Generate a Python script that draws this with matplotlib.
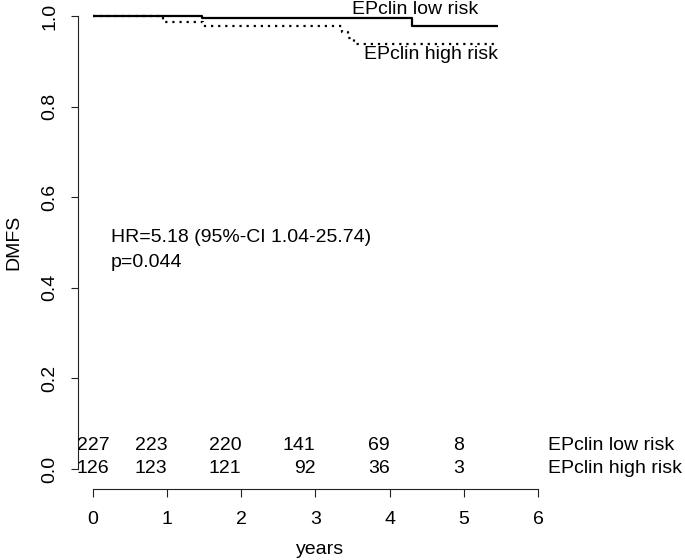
import matplotlib
matplotlib.use("Agg")
import matplotlib.pyplot as plt

plt.rcParams['font.family'] = ['Liberation Sans', 'DejaVu Sans']

# Kaplan-Meier step data
low_t = [0.0, 1.47, 4.30, 5.46]
low_s = [1.0, 0.9956, 0.977, 0.977]
high_t = [0.0, 0.95, 1.48, 3.36, 3.44, 3.52, 5.46]
high_s = [1.0, 0.986, 0.977, 0.965, 0.952, 0.938, 0.938]

# numbers at risk
risk_times = [0, 1, 2, 3, 4, 5]
risk_low = [227, 223, 220, 141, 69, 8]
risk_high = [126, 123, 121, 92, 36, 3]
group_labels = ["EPclin low risk", "EPclin high risk"]

x_ticks = [0, 1, 2, 3, 4, 5, 6]
y_ticks = [0.0, 0.2, 0.4, 0.6, 0.8, 1.0]
y_ticklabels = ["0.0", "0.2", "0.4", "0.6", "0.8", "1.0"]

hr_lines = ["HR=5.18 (95%-CI 1.04-25.74)", "p=0.044"]

FS = 14.0

fig = plt.figure(figsize=(6.85, 5.6), dpi=100)
ax = fig.add_axes([78/685, 71/560, (538-78)/685, 489/560])
ax.set_xlim(-0.202, 6.0)
ax.set_ylim(-0.0442, 1.0353)

ax.step(low_t, low_s, where='post', color='black', lw=1.6, solid_capstyle='butt')
ax.step(high_t, high_s, where='post', color='black', lw=1.6, linestyle=(0, (1.0, 2.2)))

for s in ['top', 'right']:
    ax.spines[s].set_visible(False)
ax.spines['left'].set_bounds(0, 1)
ax.spines['bottom'].set_bounds(0, 6)
for s in ['left', 'bottom']:
    ax.spines[s].set_linewidth(0.8)
    ax.spines[s].set_color('#222222')

ax.set_xticks(x_ticks)
ax.set_xticklabels([str(v) for v in x_ticks])
ax.set_yticks(y_ticks)
ax.set_yticklabels(y_ticklabels, rotation=90, va='center')
ax.tick_params(axis='x', direction='out', length=6, width=0.8, pad=10, labelsize=FS, color='#222222')
ax.tick_params(axis='y', direction='out', length=5, width=0.8, pad=9, labelsize=FS, color='#222222')

# curve labels
ax.text(3.49, 1.0135, group_labels[0], ha='left', va='center', fontsize=FS, clip_on=False)
ax.text(3.65, 0.914, group_labels[1], ha='left', va='center', fontsize=FS, clip_on=False)

# HR text
for line, yv in zip(hr_lines, [0.510, 0.455]):
    ax.text(0.24, yv, line, ha='left', va='center', fontsize=FS)

# numbers at risk
rows_y = [0.051, 0.0]
for row, yv in zip([risk_low, risk_high], rows_y):
    for i, (t, n) in enumerate(zip(risk_times, row)):
        ax.text(t, yv, str(n), ha='center' if i == 0 else 'right', va='center',
                fontsize=FS, clip_on=False)
for lab, yv in zip(group_labels, rows_y):
    ax.text(6.14, yv, lab, ha='left', va='center', fontsize=FS, clip_on=False)

fig.text(14/685, 1 - 242/560, "DMFS", rotation=90, ha='center', va='center', fontsize=FS)
fig.text(320/685, 1 - 549/560, "years", ha='center', va='center', fontsize=FS)

fig.savefig("out.png", dpi=100)
